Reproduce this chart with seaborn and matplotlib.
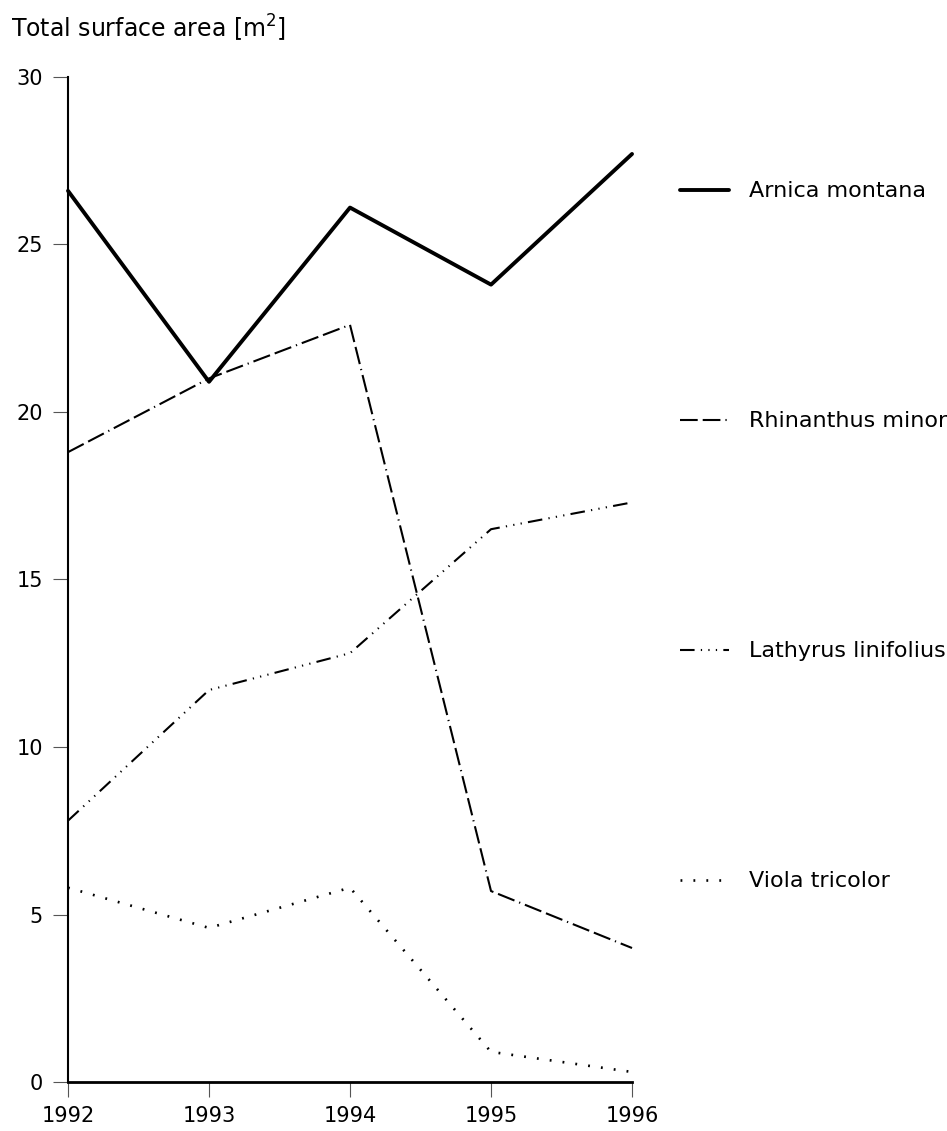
import matplotlib
matplotlib.use("Agg")
import matplotlib.pyplot as plt
import seaborn as sns
import pandas as pd
from matplotlib.lines import Line2D

years = [1992, 1993, 1994, 1995, 1996]
species = ["Arnica montana", "Rhinanthus minor", "Lathyrus linifolius", "Viola tricolor"]
arnica = [26.6, 20.9, 26.1, 23.8, 27.7]
rhinanthus = [18.8, 21.0, 22.6, 5.7, 4.0]
lathyrus = [7.8, 11.7, 12.8, 16.5, 17.3]
viola = [5.8, 4.6, 5.8, 0.9, 0.3]
y_ticks = [0, 5, 10, 15, 20, 25, 30]

df = pd.DataFrame({
    "year": years * 4,
    "area": arnica + rhinanthus + lathyrus + viola,
    "species": sum([[s] * len(years) for s in species], []),
})

sns.set_style("ticks")
plt.rcParams["font.family"] = ["DejaVu Sans"]
plt.rcParams["text.color"] = "black"
plt.rcParams["xtick.labelcolor"] = "black"
plt.rcParams["ytick.labelcolor"] = "black"

fig = plt.figure(figsize=(9.47, 11.31), dpi=100)
ax = fig.add_axes([0.0718, 0.0433, 0.5956, 0.8887])

# line width and dash pattern (in units of line width) per species
styles = {
    "Arnica montana": dict(lw=2.8, dashes=()),
    "Rhinanthus minor": dict(lw=1.5, dashes=(8.5, 2.4, 8.5, 2.4, 0.6, 2.4)),
    "Lathyrus linifolius": dict(lw=1.5, dashes=(7.0, 3.0, 0.6, 3.0, 0.6, 3.0, 0.6, 3.0)),
    "Viola tricolor": dict(lw=1.9, dashes=(0.7, 4.2)),
}

handles = []
for s in species:
    st = styles[s]
    sns.lineplot(data=df[df["species"] == s], x="year", y="area", ax=ax,
                 color="black", lw=st["lw"], legend=False, clip_on=False)
    line = ax.get_lines()[-1]
    if st["dashes"]:
        line.set_dashes(st["dashes"])
    h = Line2D([], [], color="black", lw=st["lw"])
    if st["dashes"]:
        h.set_dashes(st["dashes"])
    handles.append(h)

ax.set_xlim(1992, 1996)
ax.set_ylim(0, 30)
ax.set_xticks(years)
ax.set_yticks(y_ticks)
ax.set_xlabel("")
ax.set_ylabel("")
for side in ["top", "right"]:
    ax.spines[side].set_visible(False)
ax.spines["left"].set_linewidth(1.5)
ax.spines["left"].set_color("black")
ax.spines["bottom"].set_linewidth(2.0)
ax.spines["bottom"].set_color("black")
ax.tick_params(axis="both", direction="out", length=11, width=0.8,
               labelsize=15, color="#555555")
ax.tick_params(axis="x", pad=6)
ax.tick_params(axis="y", pad=7)

fig.text(0.012, 0.975, "Total surface area [m$^2$]", fontsize=17,
         ha="left", va="center")

leg = ax.legend(handles, species, loc="upper left",
                bbox_to_anchor=(1.07, 0.905), frameon=False, fontsize=16,
                handlelength=2.2, handletextpad=0.9, labelspacing=9.45,
                borderaxespad=0)

fig.savefig("out.png", dpi=100)
